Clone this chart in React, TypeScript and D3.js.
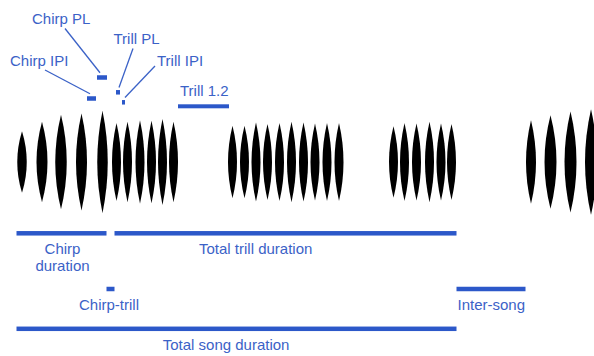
import React from "react";
import * as d3 from "d3";

// Pulse onsets (centre times, ms), durations (ms) and relative amplitudes
const chirpTimes = [11, 51, 89, 130, 172];
const chirpDurations = [19, 22, 23, 22, 21];
const chirpAmps = [0.56, 0.73, 0.86, 0.88, 0.93];

const trillTimes = [
  200, 222, 247, 270, 292, 314,
  432, 456, 479, 502, 526, 550, 574, 597, 621, 645,
  754, 776, 800, 826, 849, 870,
];
const trillDuration = 18;
const trillAmps = [
  0.71, 0.73, 0.76, 0.75, 0.78, 0.73,
  0.66, 0.66, 0.72, 0.69, 0.71, 0.73, 0.72, 0.7, 0.71, 0.71,
  0.65, 0.71, 0.7, 0.73, 0.7, 0.69,
];

const nextSongTimes = [1029, 1068, 1108, 1149];
const nextSongDurations = [20, 24, 24, 24];
const nextSongAmps = [0.76, 0.85, 0.92, 0.96];

// Measured intervals (ms)
const measureNames = [
  "Chirp PL", "Chirp IPI", "Trill PL", "Trill IPI", "Trill 1.2",
  "Chirp duration", "Total trill duration", "Chirp-trill", "Inter-song", "Total song duration",
];
const measureStart = [161, 141, 199, 211, 323, 0, 196, 180, 880, 0];
const measureEnd = [181, 159, 207, 217, 425, 180, 880, 196, 1018, 880];

const W = 594;
const H = 356;
const BAR = "#2c58c9";
const TXT = "#3b62c7";
const FONT = "'Liberation Sans', Arial, sans-serif";

// Row layout for each measurement bar, its label(s) and optional leader line
type Row = {
  y: number;
  h: number;
  labels: { text: string; x: number; y: number; anchor?: string }[];
  leader?: [number, number];
};
const rows: Record<string, Row> = {
  "Chirp PL": { y: 77.5, h: 4.5, labels: [{ text: "Chirp PL", x: 32, y: 23.5 }], leader: [65, 28.5] },
  "Chirp IPI": { y: 98.5, h: 4.5, labels: [{ text: "Chirp IPI", x: 10, y: 65.5 }], leader: [45, 70] },
  "Trill PL": { y: 92.3, h: 4.5, labels: [{ text: "Trill PL", x: 113.5, y: 44 }], leader: [133, 48.5] },
  "Trill IPI": { y: 102.3, h: 4.5, labels: [{ text: "Trill IPI", x: 157, y: 65.5 }], leader: [155, 66] },
  "Trill 1.2": { y: 106.3, h: 4, labels: [{ text: "Trill 1.2", x: 180, y: 95.5 }] },
  "Chirp duration": {
    y: 233.3, h: 4.5,
    labels: [
      { text: "Chirp", x: 62.5, y: 253.5, anchor: "middle" },
      { text: "duration", x: 62.5, y: 271, anchor: "middle" },
    ],
  },
  "Total trill duration": { y: 233.3, h: 4.5, labels: [{ text: "Total trill duration", x: 199, y: 253.5 }] },
  "Chirp-trill": { y: 289, h: 4.5, labels: [{ text: "Chirp-trill", x: 79, y: 310 }] },
  "Inter-song": { y: 289, h: 4.5, labels: [{ text: "Inter-song", x: 457.5, y: 310 }] },
  "Total song duration": { y: 328.8, h: 4.5, labels: [{ text: "Total song duration", x: 162.7, y: 350 }] },
};

const x = d3.scaleLinear().domain([0, 1155]).range([16.5, W]);
const amp = d3.scaleLinear().domain([-1, 1]).range([55, -55]);
const midY = 162;

function pulsePath(t: number, dur: number, a: number): string {
  const cx = x(t);
  const w = x(t + dur) - x(t);
  const top = midY + amp(a);
  const bottom = midY + amp(-a);
  const p = d3.path();
  p.moveTo(cx, top);
  p.quadraticCurveTo(cx + w, midY, cx, bottom);
  p.quadraticCurveTo(cx - w, midY, cx, top);
  p.closePath();
  return p.toString();
}

export default function App() {
  const pulses: { t: number; d: number; a: number }[] = [];
  chirpTimes.forEach((t, i) => pulses.push({ t, d: chirpDurations[i], a: chirpAmps[i] }));
  trillTimes.forEach((t, i) => pulses.push({ t, d: trillDuration, a: trillAmps[i] }));
  nextSongTimes.forEach((t, i) => pulses.push({ t, d: nextSongDurations[i], a: nextSongAmps[i] }));

  return (
    <svg
      width={W}
      height={H}
      viewBox={`0 0 ${W} ${H}`}
      style={{ position: "absolute", left: 0, top: 0, background: "#fff" }}
      fontFamily={FONT}
    >
      <rect width={W} height={H} fill="#fff" />
      <g>
        {pulses.map((p, i) => (
          <path key={i} d={pulsePath(p.t, p.d, p.a)} fill="#000" />
        ))}
      </g>
      <g>
        {measureNames.map((name, i) => {
          const r = rows[name];
          const x0 = x(measureStart[i]);
          const x1 = x(measureEnd[i]);
          const top = r.y - r.h / 2;
          return (
            <g key={name}>
              <rect x={x0} y={top} width={x1 - x0} height={r.h} fill={BAR} />
              {r.leader && (
                <line
                  x1={r.leader[0]}
                  y1={r.leader[1]}
                  x2={x0 + 3}
                  y2={top - 2.5}
                  stroke={TXT}
                  strokeWidth={1.3}
                />
              )}
              {r.labels.map((l) => (
                <text
                  key={l.text}
                  x={l.x}
                  y={l.y}
                  fontSize={15}
                  fill={TXT}
                  textAnchor={l.anchor ?? "start"}
                >
                  {l.text}
                </text>
              ))}
            </g>
          );
        })}
      </g>
    </svg>
  );
}
